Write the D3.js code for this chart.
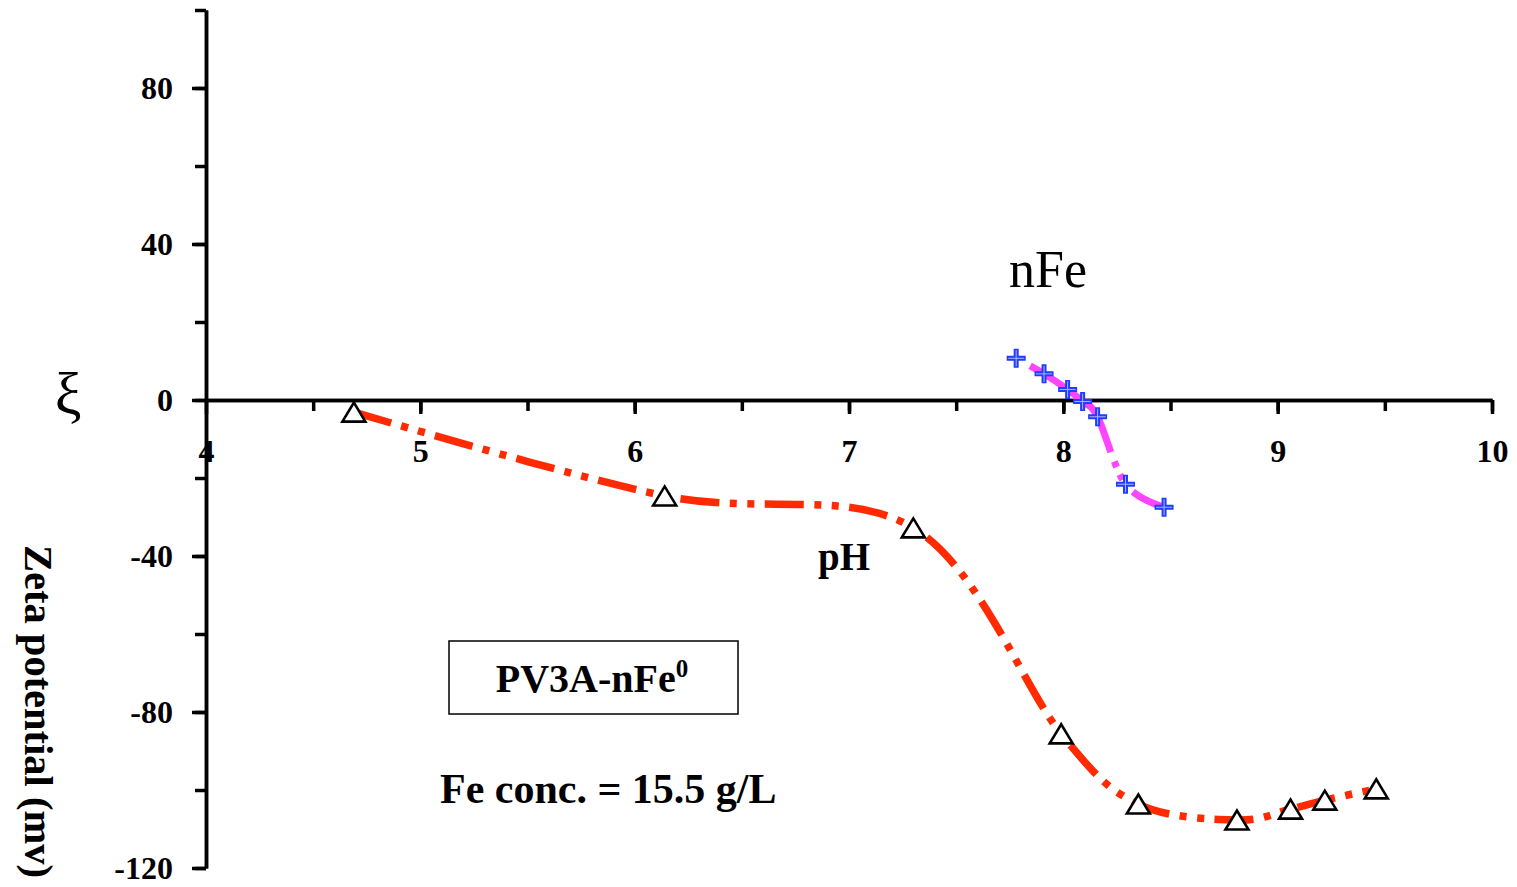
<!DOCTYPE html>
<html>
<head>
<meta charset="utf-8">
<script src="https://cdn.jsdelivr.net/npm/d3@7"></script>
<style>
  html, body { margin: 0; padding: 0; background: #fff; }
  svg { display: block; }
  text { font-family: "Liberation Serif", "Times New Roman", serif; }
</style>
</head>
<body>
<svg id="chart" width="1517" height="887"></svg>
<script>
// ---- data ----
const xTickLabels = [4, 5, 6, 7, 8, 9, 10];
const yTickLabels = [-120, -80, -40, 0, 40, 80];
const phRed   = [4.69, 6.14, 7.30, 7.99, 8.35, 8.81, 9.06, 9.22, 9.46];
const zetaRed = [-3.1, -24.6, -32.8, -85.6, -103.6, -107.7, -104.9, -102.6, -99.7];
const phMag   = [7.78, 7.91, 8.02, 8.09, 8.16, 8.29, 8.47];
const zetaMag = [10.7, 6.7, 2.7, -0.4, -4.3, -21.6, -27.5];

const svg = d3.select("#chart");
const x = d3.scaleLinear().domain([4, 10]).range([206, 1492]);
const y = d3.scaleLinear().domain([-120, 100]).range([868, 10]);
const fmt = d => String(d);

// ---- x axis (at y = 0) ----
const xMinor = d3.range(4.5, 10.01, 0.5);
const gxMinor = svg.append("g").attr("transform", `translate(0,${y(0)})`)
  .call(d3.axisBottom(x).tickValues(xMinor).tickSize(11).tickSizeOuter(0).tickFormat(""));
const gx = svg.append("g").attr("transform", `translate(0,${y(0)})`)
  .call(d3.axisBottom(x).tickValues(xTickLabels).tickSize(14).tickSizeOuter(0).tickPadding(25).tickFormat(fmt));
[gxMinor, gx].forEach(g => {
  g.select(".domain").attr("stroke", "#000").attr("stroke-width", 3.5);
  g.selectAll(".tick line").attr("stroke", "#000").attr("stroke-width", 3.5);
});
gx.selectAll(".tick text").attr("fill", "#000")
  .style("font-family", '"Liberation Serif", serif').style("font-size", "32px").style("font-weight", "bold");

// ---- y axis ----
const yMinor = d3.range(-120, 100.1, 20);
const gyMinor = svg.append("g").attr("transform", `translate(${x(4)},0)`)
  .call(d3.axisLeft(y).tickValues(yMinor).tickSize(11).tickSizeOuter(0).tickFormat(""));
const gy = svg.append("g").attr("transform", `translate(${x(4)},0)`)
  .call(d3.axisLeft(y).tickValues(yTickLabels).tickSize(14).tickSizeOuter(0).tickPadding(19).tickFormat(fmt));
[gyMinor, gy].forEach(g => {
  g.select(".domain").attr("stroke", "#000").attr("stroke-width", 3.5);
  g.selectAll(".tick line").attr("stroke", "#000").attr("stroke-width", 3.5);
});
gy.selectAll(".tick text").attr("fill", "#000")
  .style("font-family", '"Liberation Serif", serif').style("font-size", "32px").style("font-weight", "bold");

// ---- lines ----
const redData = phRed.map((p, i) => [p, zetaRed[i]]);
const magData = phMag.map((p, i) => [p, zetaMag[i]]);
const line = d3.line().x(d => x(d[0])).y(d => y(d[1])).curve(d3.curveCardinal.tension(0));

svg.append("path").datum(redData).attr("d", line)
  .attr("fill", "none").attr("stroke", "#ff2a00").attr("stroke-width", 7.5)
  .attr("stroke-dasharray", "39,10.5,7,10.5,7,10.5");

svg.append("path").datum(magData).attr("d", line)
  .attr("fill", "none").attr("stroke", "#ff44ff").attr("stroke-width", 7)
  .attr("stroke-dasharray", "0,16,123,10,6,8,6,16,200");

// ---- markers ----
svg.append("g").selectAll("path").data(redData).join("path")
  .attr("transform", d => `translate(${x(d[0])},${y(d[1])})`)
  .attr("d", "M-11.5,9.5L11.5,9.5L0,-9.5Z")
  .attr("fill", "#fff").attr("stroke", "#000").attr("stroke-width", 2.6).attr("stroke-linejoin", "miter");

const cross = svg.append("g").selectAll("g").data(magData).join("g")
  .attr("transform", d => `translate(${x(d[0])},${y(d[1])})`);
cross.append("path").attr("d", "M-9.5,0H9.5M0,-9.5V9.5")
  .attr("stroke", "#1f3cff").attr("stroke-width", 5).attr("fill", "none");
cross.append("path").attr("d", "M-8,0H8M0,-8V8")
  .attr("stroke", "#a8b6ff").attr("stroke-width", 1).attr("fill", "none");

// ---- annotations ----
svg.append("text").attr("x", 1009).attr("y", 287).style("font-size", "52px").text("nFe");
svg.append("text").attr("x", 818).attr("y", 570).style("font-size", "39px").style("font-weight", "bold").text("pH");

svg.append("rect").attr("x", 449).attr("y", 641).attr("width", 289).attr("height", 73)
  .attr("fill", "none").attr("stroke", "#000").attr("stroke-width", 1.5);
const lbl = svg.append("text").attr("x", 592).attr("y", 692).attr("text-anchor", "middle")
  .style("font-size", "40px").style("font-weight", "bold");
lbl.append("tspan").text("PV3A-nFe");
lbl.append("tspan").attr("dy", -15).style("font-size", "25px").text("0");

svg.append("text").attr("x", 440).attr("y", 803).style("font-size", "42px").style("font-weight", "bold")
  .text("Fe conc. = 15.5 g/L");

// ---- y-axis title ----
svg.append("text").attr("x", 68).attr("y", 414).attr("text-anchor", "middle")
  .style("font-size", "60px").text("ξ");
svg.append("text").attr("transform", "translate(25,545) rotate(90)")
  .style("font-size", "40.5px").style("font-weight", "bold").text("Zeta potential (mv)");
</script>
</body>
</html>
